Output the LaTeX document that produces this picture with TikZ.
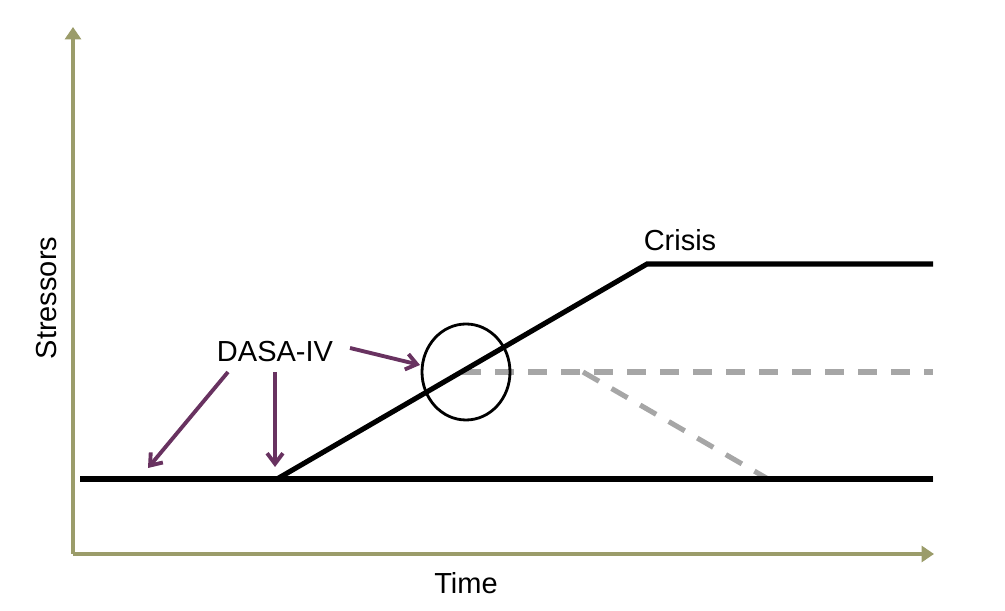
\documentclass[tikz,border=0pt]{standalone}
\usepackage{fontspec}
\setmainfont{Liberation Sans}
\usetikzlibrary{arrows.meta,shapes.geometric}
\definecolor{axisolive}{RGB}{155,156,106}
\definecolor{dasapurple}{RGB}{104,50,96}
\definecolor{dashgray}{RGB}{166,166,166}
\begin{document}
\begin{tikzpicture}[thick, axis/.style = {draw=axisolive, line width=2.8pt, -{Triangle[length=7pt,width=9pt]}},
			level/.style = {draw=black, line width=2.9pt},
			drop/.style = {draw=dashgray, line width=2.9pt, dash pattern=on 0.37cm off 0.29cm},
			pointer/.style = {draw=dasapurple, line width=2.2pt, -{Straight Barb[length=6pt,width=9pt]}},
			label/.style = {font=\fontsize{16.5}{18}\selectfont, inner sep=0pt}]
			
			\useasboundingbox (0,0) rectangle (20.1,12.22);
			
			% axes
			\coordinate (o) at (1.46,1.14);
			\coordinate (ytop) at (1.46,11.68);
			\coordinate (xend) at (18.68,1.14);
			\draw[axis] (o) to (ytop);
			\draw[axis] (o) to (xend);
			
			\node[label] (time) at (9.32,0.56) {Time};
			\node[label, rotate=90] (stress) at (0.94,6.26) {Stressors};
			
			% stressor levels
			\coordinate (b0) at (1.6,2.64);
			\coordinate (b1) at (5.54,2.64);
			\coordinate (b2) at (18.66,2.64);
			\coordinate (c1) at (12.94,6.94);
			\coordinate (c2) at (18.66,6.94);
			\coordinate (d0) at (9.24,4.78);
			\coordinate (d1) at (11.66,4.78);
			\coordinate (d2) at (18.66,4.78);
			\coordinate (d3) at (15.36,2.64);
			
			\draw[drop] (d0) to (d2);
			\draw[drop] (d1) to (d3) to (b2);
			\draw[level] (b0) to (b2);
			\draw[level] (b1) to (c1) to (c2);
			
			\node[label] (crisis) at (13.6,7.42) {Crisis};
			\node[draw, ellipse, line width=1.6pt, minimum width=1.76cm, minimum height=1.92cm] (ring) at (9.32,4.78) {};
			
			% DASA-IV pointers
			\node[label] (dasa) at (5.5,5.18) {DASA-IV};
			\coordinate (q1) at (4.56,4.78);
			\coordinate (q2) at (5.5,4.78);
			\coordinate (q3) at (7.0,5.26);
			\coordinate (p1) at (2.96,2.86);
			\coordinate (p2) at (5.5,2.88);
			\coordinate (p3) at (8.4,4.92);
			\draw[pointer] (q1) to (p1);
			\draw[pointer] (q2) to (p2);
			\draw[pointer] (q3) to (p3);
			
		\end{tikzpicture}
\end{document}
